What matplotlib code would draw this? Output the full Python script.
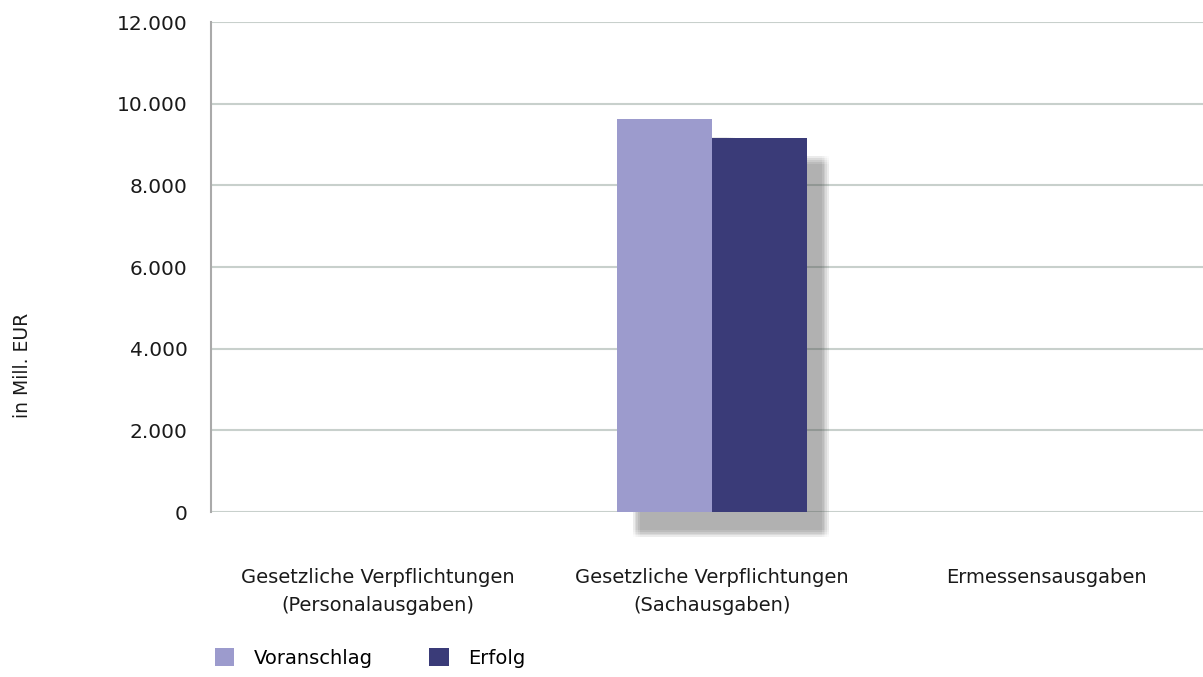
import matplotlib.pyplot as plt
import matplotlib.patheffects as pe
import numpy as np

kategorien = ["Gesetzliche Verpflichtungen\n(Personalausgaben)",
              "Gesetzliche Verpflichtungen\n(Sachausgaben)",
              "Ermessensausgaben"]
voranschlag = [0, 9620, 0]
erfolg = [0, 9150, 0]
y_ticks = [0, 2000, 4000, 6000, 8000, 10000, 12000]
y_labels = ["0", "2.000", "4.000", "6.000", "8.000", "10.000", "12.000"]

plt.rcParams['font.family'] = ['DejaVu Sans']

fig = plt.figure(figsize=(12.03, 6.77), dpi=100)
ax = fig.add_axes([0.1754, 0.2437, 0.8246, 0.7238])

x = np.arange(len(kategorien))
b = 0.283

# weicher Schatten hinter den Balken (mehrere versetzte Lagen)
schatten = []
for dx in [11.0, 12.3, 13.6, 14.9, 16.2]:
    for dy in [-13.0, -14.3, -15.6, -16.9, -18.2]:
        schatten.append(pe.SimplePatchShadow(offset=(dx, dy), shadow_rgbFace='#666666', alpha=0.022))
schatten.append(pe.Normal())

s1 = ax.bar(x - b / 2, voranschlag, b, color='#9c9bcd', label='Voranschlag', zorder=3)
s2 = ax.bar(x + b / 2, erfolg, b, color='#3a3b78', label='Erfolg', zorder=3)
for r in list(s1) + list(s2):
    if r.get_height() > 0:
        r.set_path_effects(schatten)
        r.set_clip_on(False)

ax.set_ylim(0, 12000)
ax.set_xlim(-0.5, 2.47)
ax.set_yticks(y_ticks)
ax.set_yticklabels(y_labels, fontsize=14.5, color='#1a1a1a')
ax.set_xticks(x)
ax.set_xticklabels(kategorien, fontsize=14, color='#1a1a1a', linespacing=1.6)
ax.tick_params(axis='x', length=0, pad=40)
ax.tick_params(axis='y', length=0, pad=17)

ax.grid(axis='y', color='#c8d0cc', linewidth=1.5, zorder=0)
for s in ['top', 'right', 'bottom']:
    ax.spines[s].set_visible(False)
ax.spines['left'].set_color('#aaaaaa')
ax.spines['left'].set_linewidth(1.5)

fig.text(0.019, 0.46, "in Mill. EUR", rotation=90, fontsize=13.5, color='#1a1a1a',
         ha='center', va='center')

fig.legend(handles=[s1, s2], labels=['Voranschlag', 'Erfolg'], loc='lower left',
           bbox_to_anchor=(0.164, -0.012), ncol=2, frameon=False, fontsize=14,
           handlelength=1.0, handleheight=1.0, columnspacing=2.9, handletextpad=1.0)

fig.savefig('out.png', dpi=100)
